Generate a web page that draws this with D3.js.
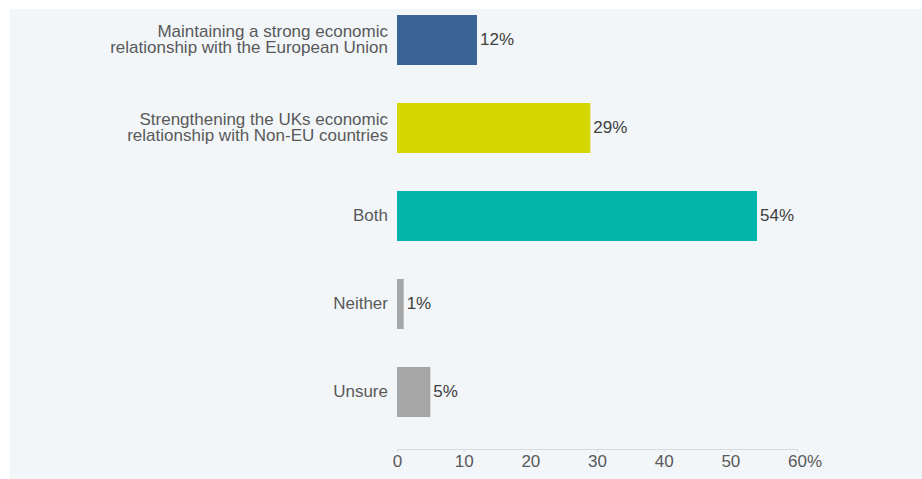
<!DOCTYPE html>
<html><head><meta charset="utf-8">
<script src="https://cdn.jsdelivr.net/npm/d3@7"></script>
<style>
html,body{margin:0;padding:0;background:#fff;}
svg{display:block;font-family:"Liberation Sans",Arial,sans-serif;}
</style></head>
<body><svg id="c" width="922" height="479"></svg>
<script>
const categories = [
  ["Maintaining a strong economic","relationship with the European Union"],
  ["Strengthening the UKs economic","relationship with Non-EU countries"],
  ["Both"],
  ["Neither"],
  ["Unsure"]
];
const values = [12, 29, 54, 1, 5];
const colors = ["#3a6496", "#d4d800", "#04b5ab", "#a6a6a6", "#a6a6a6"];
const tickValues = [0, 10, 20, 30, 40, 50, 60];

const FS = 17;
const svg = d3.select("#c");
svg.append("rect").attr("x",10).attr("y",9).attr("width",912).attr("height",470).attr("fill","#f2f6f9");

const x = d3.scaleLinear().domain([0,60]).range([397,797]);
const idx = d3.range(values.length);
const y = d3.scaleBand().domain(idx).range([15,417]).paddingInner(38/88).paddingOuter(0);

// axis
const axisY = 449;
const ax = svg.append("g").attr("transform",`translate(0,${axisY})`)
  .call(d3.axisBottom(x).tickValues(tickValues).tickSize(3).tickSizeOuter(0).tickFormat(d=>d));
ax.select(".domain").attr("stroke","#d9d9d9");
ax.selectAll(".tick line").attr("stroke","#d9d9d9");
ax.selectAll(".tick text").attr("fill","#595959").attr("font-size",FS)
  .attr("font-family","'Liberation Sans',Arial,sans-serif").attr("y",6).attr("dy","0.71em");
// percent sign after last tick
const lastTick = ax.selectAll(".tick").filter(d=>d===60);
const lt = lastTick.select("text");
const w = lt.node().getComputedTextLength();
lastTick.append("text").attr("x", w/2).attr("y",6).attr("dy","0.71em")
  .attr("fill","#595959").attr("font-size",FS).attr("text-anchor","start")
  .attr("font-family","'Liberation Sans',Arial,sans-serif").text("%");

// bars
svg.selectAll("rect.bar").data(idx).join("rect").attr("class","bar")
  .attr("x", x(0)).attr("y", i=>y(i)).attr("width", i=>x(values[i])-x(0))
  .attr("height", y.bandwidth()).attr("fill", i=>colors[i]);

// value labels
svg.selectAll("text.val").data(idx).join("text").attr("class","val")
  .attr("x", i=>x(values[i])+3).attr("y", i=>y(i)+y.bandwidth()/2).attr("dy","0.32em")
  .attr("font-size",FS).attr("fill","#404040").text(i=>values[i]+"%");

// category labels
const cl = svg.selectAll("text.cat").data(idx).join("text").attr("class","cat")
  .attr("text-anchor","end").attr("font-size",FS).attr("fill","#595959")
  .attr("transform", i=>`translate(388,${y(i)+y.bandwidth()/2})`);
cl.each(function(i){
  const lines = categories[i];
  const lh = 16;
  const t = d3.select(this);
  lines.forEach((s,k)=>{
    t.append("tspan").attr("x",0).attr("y", (k-(lines.length-1)/2)*lh).attr("dy","0.3em").text(s);
  });
});
</script></body></html>
